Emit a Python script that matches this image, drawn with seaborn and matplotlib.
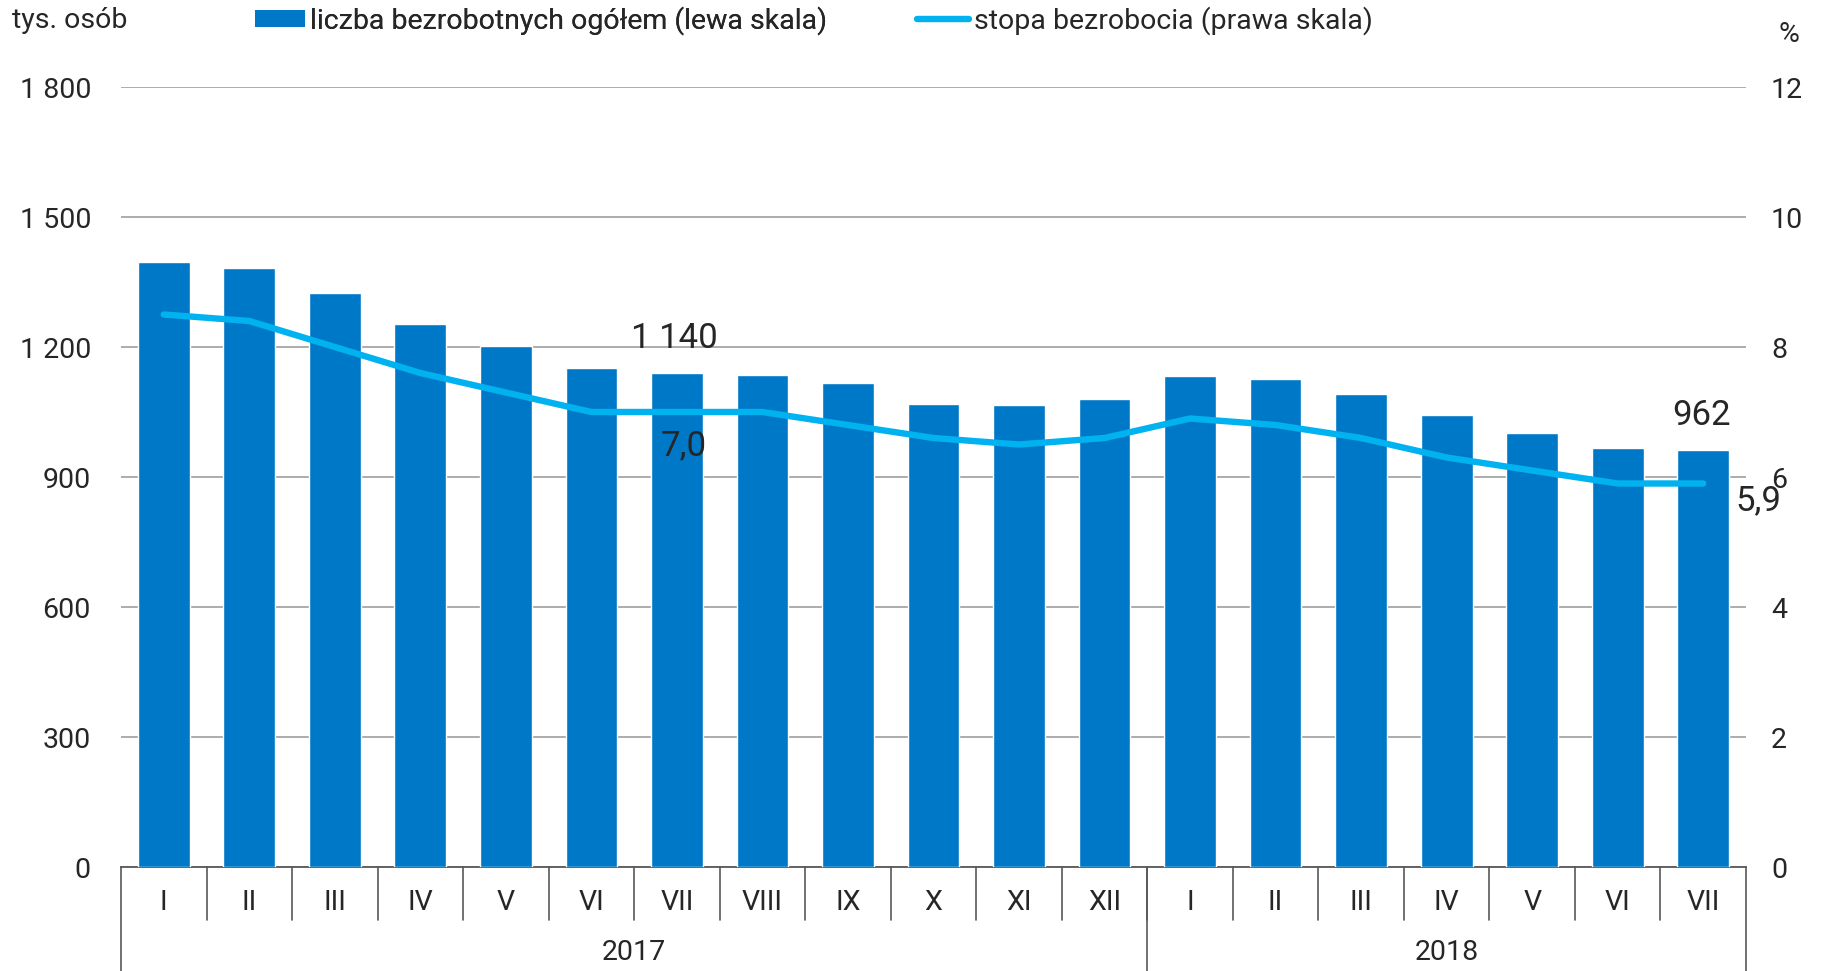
import matplotlib
matplotlib.use("Agg")
import matplotlib.pyplot as plt
from matplotlib import font_manager
from matplotlib.lines import Line2D
from matplotlib.patches import Patch
import matplotlib.transforms as mtransforms
import seaborn as sns
import pandas as pd

# ---- data ----
months = ["I", "II", "III", "IV", "V", "VI", "VII", "VIII", "IX", "X", "XI", "XII",
          "I", "II", "III", "IV", "V", "VI", "VII"]
years = ["2017", "2018"]
year_lengths = [12, 7]
unemployed = [1397, 1383, 1324, 1252, 1202, 1151, 1140, 1135, 1116, 1068, 1067, 1081,
              1133, 1125, 1092, 1042, 1001, 967, 962]
rate = [8.5, 8.4, 8.0, 7.6, 7.3, 7.0, 7.0, 7.0, 6.8, 6.6, 6.5, 6.6,
        6.9, 6.8, 6.6, 6.3, 6.1, 5.9, 5.9]
left_ticks = [0, 300, 600, 900, 1200, 1500, 1800]
right_ticks = [0, 2, 4, 6, 8, 10, 12]
bar_label = "liczba bezrobotnych ogółem (lewa skala)"
line_label = "stopa bezrobocia (prawa skala)"

BAR_C = "#0078C8"
LINE_C = "#00B2F0"
GRID_C = "#A6A6A6"
AX_C = "#595959"

sns.set_theme(style="white")
names = {f.name for f in font_manager.fontManager.ttflist}
fam = "DejaVu Sans"
for cand in ["Roboto", "Roboto Condensed", "Liberation Sans"]:
    if cand in names:
        fam = cand
        break
plt.rcParams["font.family"] = [fam, "DejaVu Sans"]

FS = 20.5
LFS = 25
PX = 100 / 72  # px per point

df = pd.DataFrame({"idx": list(range(len(months))), "month": months,
                   "unemployed": unemployed, "rate": rate})

fig = plt.figure(figsize=(18.25, 9.71), dpi=100)
ax = fig.add_axes([121 / 1825, 1 - 867 / 971, (1746 - 121) / 1825, (867 - 87) / 971])

sns.barplot(data=df, x="idx", y="unemployed", color=BAR_C, width=0.605,
            saturation=1, ax=ax, zorder=3)
ax.set_xlim(-0.5, len(months) - 0.5)
ax.set_ylim(0, 1800)
ax.set_yticks(left_ticks)
ax.set_yticklabels([f"{v:,}".replace(",", " ") for v in left_ticks], fontsize=FS)
ax.yaxis.grid(True, color=GRID_C, lw=1.3, zorder=0)
ax.set_axisbelow(True)
ax.tick_params(axis="y", length=0, pad=30 / PX)
ax.set_xticks(range(len(months)))
ax.set_xticklabels(months, fontsize=FS)
ax.tick_params(axis="x", length=0, pad=16)
ax.set_xlabel("")
ax.set_ylabel("")
for s in ["top", "right", "left"]:
    ax.spines[s].set_visible(False)
ax.spines["bottom"].set_color(AX_C)
ax.spines["bottom"].set_linewidth(1.3)

ax2 = ax.twinx()
sns.lineplot(data=df, x="idx", y="rate", color=LINE_C, lw=4.6, ax=ax2,
             solid_capstyle="round", zorder=5)
ax2.set_ylim(0, 12)
ax2.set_yticks(right_ticks)
ax2.set_yticklabels([str(v) for v in right_ticks], fontsize=FS)
ax2.tick_params(axis="y", length=0, pad=25 / PX)
ax2.set_ylabel("")
ax2.set_xlim(-0.5, len(months) - 0.5)
for s in ["top", "right", "left", "bottom"]:
    ax2.spines[s].set_visible(False)

# category separators
trans = mtransforms.blended_transform_factory(ax.transData, ax.transAxes)
h_px = 867 - 87
for i in range(1, len(months)):
    ax.plot([i - 0.5, i - 0.5], [0, -(920 - 867) / h_px], transform=trans,
            color=AX_C, lw=1.2, clip_on=False)
start = 0
bounds = [-0.5]
for yl, n in zip(years, year_lengths):
    bounds.append(start + n - 0.5)
    ax.text(start + (n - 1) / 2, -(952 - 867) / h_px, yl, transform=trans,
            ha="center", va="center", fontsize=FS)
    start += n
for b in bounds:
    ax.plot([b, b], [0, -(975 - 867) / h_px], transform=trans,
            color=AX_C, lw=1.2, clip_on=False)

# data labels
ax.annotate("1 140", xy=(6, unemployed[6]), xytext=(-2, 34 / PX),
            textcoords="offset points", ha="center", va="center", fontsize=LFS)
ax.annotate("962", xy=(18, unemployed[18]), xytext=(-1, 35 / PX),
            textcoords="offset points", ha="center", va="center", fontsize=LFS)
ax2.annotate("7,0", xy=(6, rate[6]), xytext=(7 / PX, -34 / PX),
             textcoords="offset points", ha="center", va="center", fontsize=LFS)
ax2.annotate("5,9", xy=(18, rate[18]), xytext=(55 / PX, -17 / PX),
             textcoords="offset points", ha="center", va="center", fontsize=LFS)

# units
fig.text(12 / 1825, 1 - 21 / 971, "tys. osób", ha="left", va="center", fontsize=FS)
fig.text(1789 / 1825, 1 - 35 / 971, "%", ha="center", va="center", fontsize=FS)

# legend (two entries placed separately)
em = FS * PX
leg1 = fig.legend([Patch(facecolor=BAR_C, edgecolor="none")], [bar_label],
                  loc="center left", bbox_to_anchor=(255 / 1825, 1 - 21 / 971),
                  frameon=False, fontsize=FS, handlelength=50 / em,
                  handleheight=0.55, handletextpad=5 / em, borderpad=0,
                  borderaxespad=0)
fig.add_artist(leg1)
fig.legend([Line2D([0], [0], color=LINE_C, lw=4.6, solid_capstyle="round")],
           [line_label], loc="center left",
           bbox_to_anchor=(917 / 1825, 1 - 21 / 971), frameon=False,
           fontsize=FS, handlelength=52 / em, handletextpad=5 / em,
           borderpad=0, borderaxespad=0)

fig.savefig("out.png", dpi=100)
